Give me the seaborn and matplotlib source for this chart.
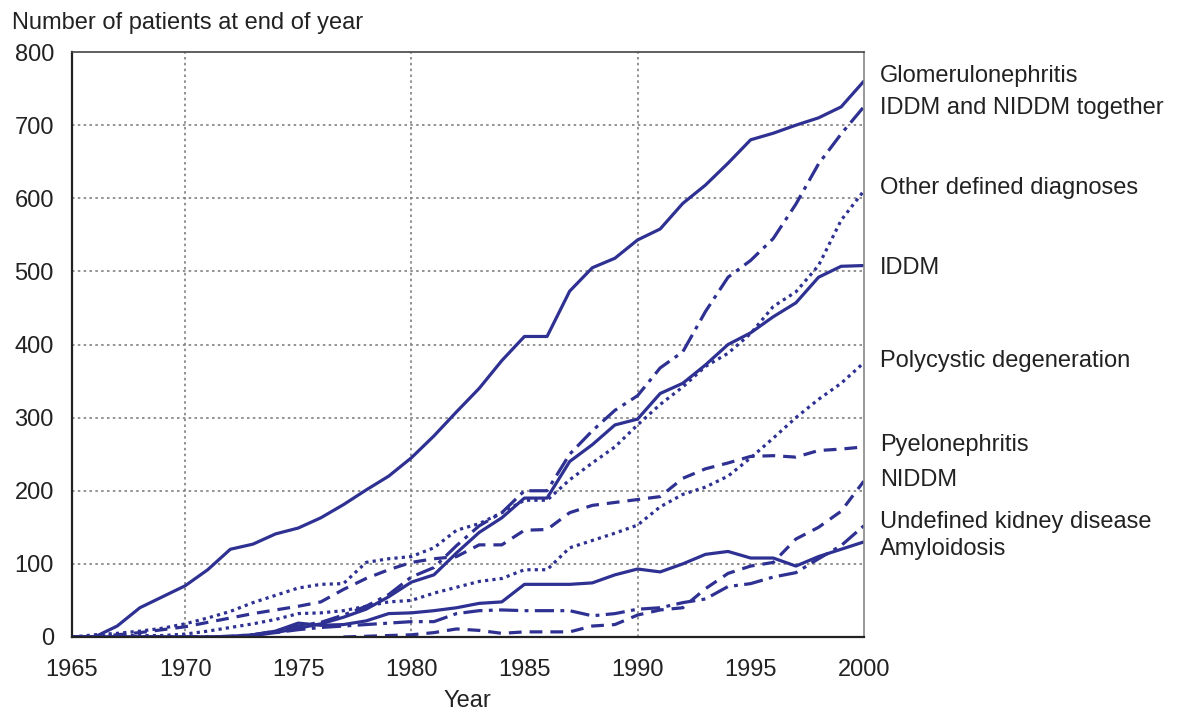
import numpy as np
import pandas as pd
import seaborn as sns
import matplotlib.pyplot as plt

# === DATI ===
years = list(range(1965, 2001))

glomerulonephritis = [0, 0, 15, 40, 55, 70, 92, 120, 127, 141, 149, 163, 181, 201, 220, 245, 275, 308,
                      340, 378, 411, 411, 473, 505, 518, 543, 558, 593, 618, 648, 680, 689, 700, 710, 725, 760]
iddm_niddm = [0, 0, 0, 0, 0, 0, 0, 0, 3, 8, 15, 20, 30, 42, 58, 82, 95, 125,
              152, 170, 200, 200, 250, 282, 310, 330, 368, 390, 445, 492, 515, 545, 592, 647, 688, 725]
other_defined = [0, 3, 5, 8, 12, 18, 26, 35, 47, 57, 67, 72, 73, 102, 107, 110, 122, 146,
                 155, 170, 187, 187, 215, 238, 260, 290, 318, 342, 370, 388, 415, 452, 472, 508, 570, 610]
iddm = [0, 0, 0, 0, 0, 0, 0, 0, 2, 6, 12, 18, 27, 38, 55, 75, 85, 115,
        143, 163, 190, 190, 240, 263, 290, 298, 333, 347, 372, 400, 416, 438, 457, 492, 507, 508]
polycystic = [0, 1, 2, 2, 2, 4, 8, 13, 18, 24, 32, 33, 36, 42, 48, 50, 60, 68,
              76, 80, 92, 92, 122, 132, 142, 153, 178, 195, 205, 220, 245, 272, 300, 325, 347, 375]
pyelonephritis = [0, 0, 3, 6, 10, 14, 20, 26, 32, 37, 42, 48, 65, 80, 92, 102, 107, 110,
                  126, 126, 146, 147, 170, 180, 184, 188, 192, 217, 230, 238, 247, 248, 246, 255, 257, 260]
niddm = [np.nan] * 12 + [0, 1, 2, 3, 6, 11, 9, 5, 7, 7, 7, 15, 17, 30, 37, 40, 66, 87, 97, 102, 134, 150, 172, 213]
undefined_kidney = [0, 0, 0, 0, 0, 0, 0, 1, 3, 6, 10, 13, 15, 17, 19, 21, 21, 32,
                    36, 37, 36, 36, 36, 29, 32, 38, 40, 47, 52, 69, 73, 82, 88, 107, 125, 152]
amyloidosis = [0, 0, 0, 0, 0, 0, 0, 1, 3, 8, 19, 16, 17, 22, 32, 33, 36, 40,
               46, 48, 72, 72, 72, 74, 85, 93, 89, 100, 113, 117, 108, 108, 97, 110, 120, 130]

series = {
  'Glomerulonephritis': glomerulonephritis,
  'IDDM and NIDDM together': iddm_niddm,
  'Other defined diagnoses': other_defined,
  'IDDM': iddm,
  'Polycystic degeneration': polycystic,
  'Pyelonephritis': pyelonephritis,
  'NIDDM': niddm,
  'Undefined kidney disease': undefined_kidney,
  'Amyloidosis': amyloidosis,
}

# posizione verticale delle etichette a destra (in unita dei dati)
label_y = [767, 724, 614, 505, 378, 262, 215, 157, 120]

# stile delle linee
dashes = {
  'Glomerulonephritis': '',
  'IDDM and NIDDM together': (6, 2, 1.2, 2),
  'Other defined diagnoses': (1, 1.3),
  'IDDM': '',
  'Polycystic degeneration': (1, 1.3),
  'Pyelonephritis': (4, 2.5),
  'NIDDM': (4, 2.5),
  'Undefined kidney disease': (6, 2, 1.2, 2),
  'Amyloidosis': '',
}

# dataframe in formato lungo
rows = []
for name, vals in series.items():
  for yr, v in zip(years, vals):
    rows.append({'Year': yr, 'Patients': v, 'Diagnosis': name})
df = pd.DataFrame(rows)

# === GRAFICO ===
sns.set_style('white')
plt.rcParams['font.family'] = ['Liberation Sans', 'DejaVu Sans']

navy = '#2e3192'
fs = 17
fig = plt.figure(figsize=(11.8, 7.13), dpi=100)
ax = fig.add_axes([0.061, 0.1066, 0.671, 0.8204])

# griglia punteggiata
for yv in range(100, 800, 100):
  ax.axhline(yv, color='#808080', linestyle=(0, (1.5, 2)), linewidth=1.2, zorder=0)
for xv in [1970, 1980, 1990]:
  ax.axvline(xv, color='#808080', linestyle=(0, (1.5, 2)), linewidth=1.2, zorder=0)

sns.lineplot(data=df, x='Year', y='Patients', hue='Diagnosis', style='Diagnosis',
             palette=[navy] * len(series), dashes=dashes, linewidth=2.3,
             legend=False, ax=ax)

ax.set_xlim(1965, 2000)
ax.set_ylim(0, 800)
ax.set_xticks(range(1965, 2001, 5))
ax.set_yticks(range(0, 801, 100))
ax.tick_params(axis='both', direction='out', length=7, width=1.3, labelsize=fs,
               colors='#222222', pad=6)
ax.tick_params(axis='x', pad=9)

ax.set_xlabel('Year', fontsize=fs, color='#222222', labelpad=6)
ax.set_ylabel('')

# bordi
for side in ['left', 'bottom']:
  ax.spines[side].set_color('#222222')
  ax.spines[side].set_linewidth(1.6)
ax.spines['top'].set_color('#444444')
ax.spines['top'].set_linewidth(1.2)
ax.spines['right'].set_color('#888888')
ax.spines['right'].set_linewidth(1.2)

# etichette delle serie a destra
for name, yv in zip(series.keys(), label_y):
  ax.annotate(name, xy=(2000, yv), xytext=(11.5, 0), textcoords='offset points',
              fontsize=fs, color='#222222', va='center', ha='left', annotation_clip=False)

# titolo dell'asse y in alto a sinistra
fig.text(0.010, 0.968, 'Number of patients at end of year', fontsize=fs, color='#222222',
         ha='left', va='center')

plt.savefig('out.png', dpi=100)
